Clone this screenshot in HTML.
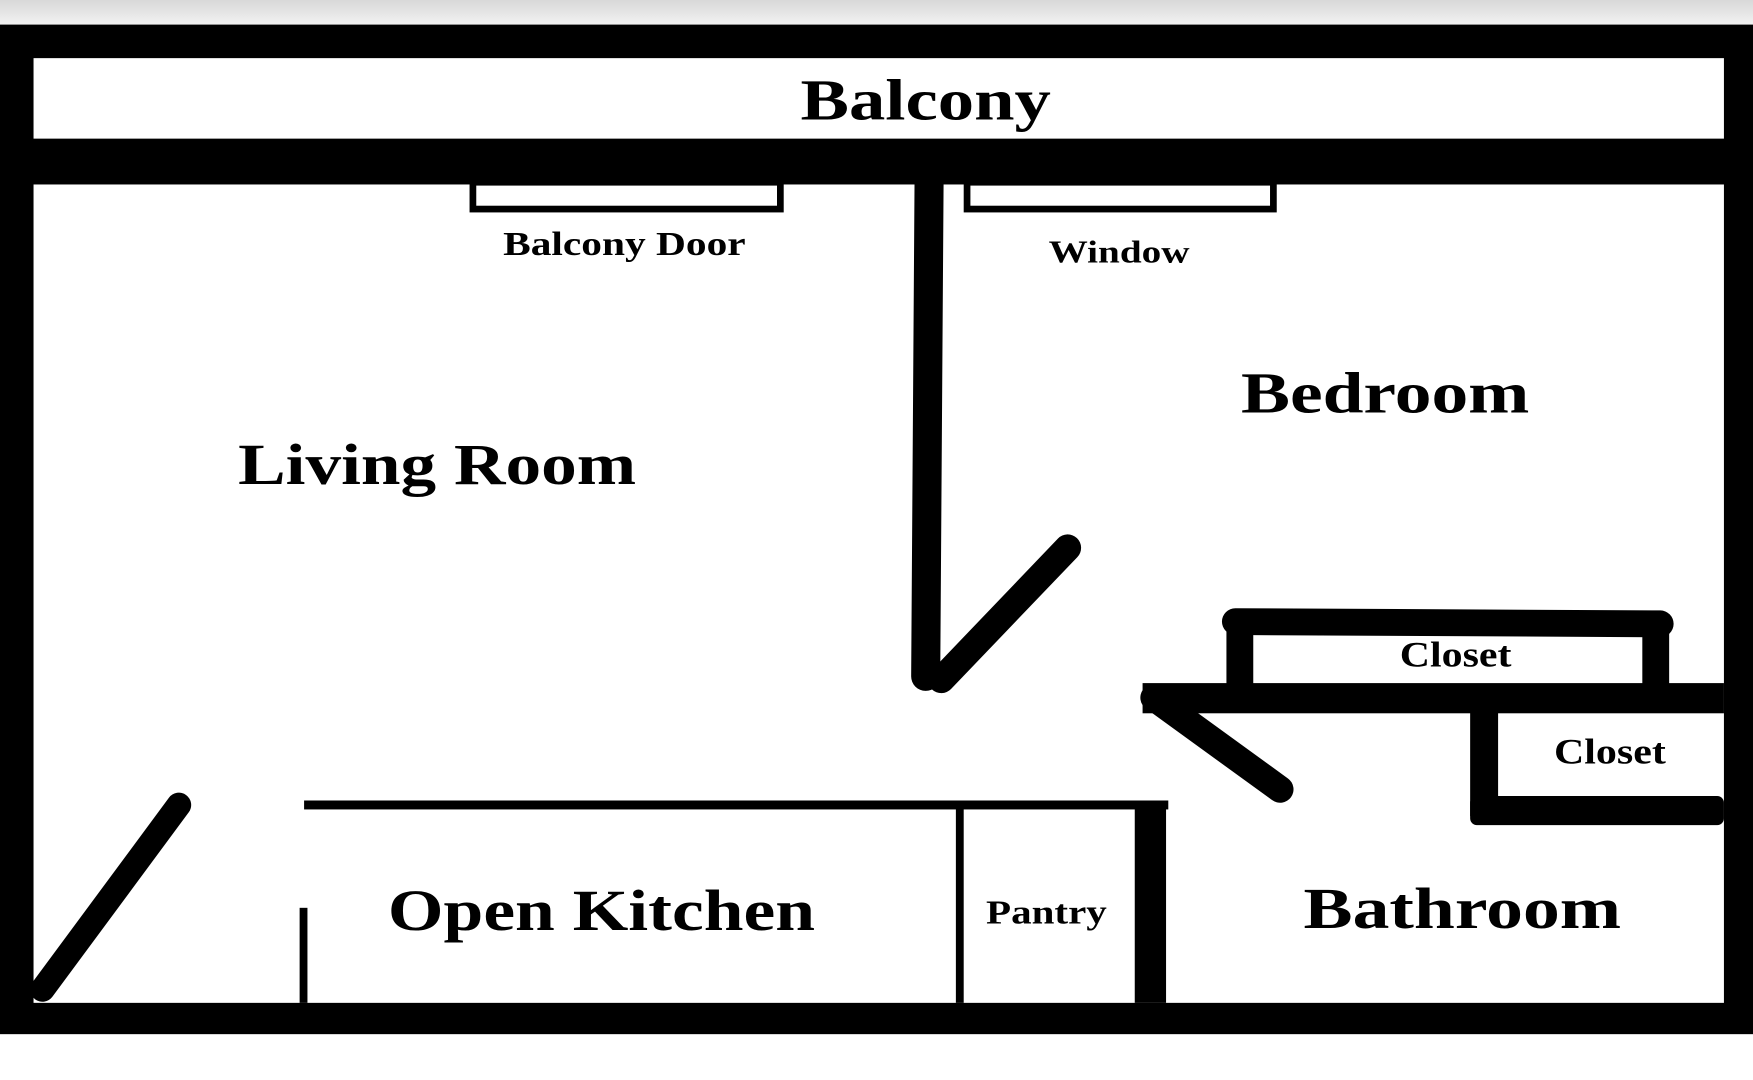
<!DOCTYPE html>
<html><head><style>html,body{margin:0;padding:0;background:#fff;overflow:hidden}svg{display:block}</style></head>
<body>
<svg width="1753" height="1080" viewBox="0 0 1568 966" preserveAspectRatio="none" xmlns="http://www.w3.org/2000/svg">
<defs><linearGradient id="g" x1="0" y1="0" x2="0" y2="1"><stop offset="0" stop-color="#d8d8d8"/><stop offset="1" stop-color="#f2f2f2"/></linearGradient></defs>
<rect x="0" y="0" width="1568" height="966" fill="#fff"/>
<rect x="0" y="0" width="1568" height="22" fill="url(#g)"/>
<rect x="0" y="22" width="1568" height="903" fill="#000"/>
<rect x="30" y="52" width="1512" height="72" fill="#fff"/>
<rect x="30" y="165" width="1512" height="732" fill="#fff"/>
<g fill="none" stroke="#000">
<rect x="423" y="163" width="275" height="24" stroke-width="6"/>
<rect x="865" y="163" width="274" height="24" stroke-width="6"/>
</g>
<g stroke="#000" stroke-linecap="round" fill="none">
<line x1="831" y1="165" x2="828" y2="605" stroke-width="26"/>
<line x1="842" y1="608" x2="955" y2="490" stroke-width="24"/>
<line x1="1105" y1="556" x2="1485" y2="558" stroke-width="24"/>
<line x1="1032" y1="624" x2="1145" y2="706" stroke-width="24"/>
<line x1="160" y1="720" x2="38" y2="885" stroke-width="22"/>
</g>
<rect x="1097" y="556" width="24" height="62" fill="#000"/>
<rect x="1469" y="558" width="24" height="60" fill="#000"/>
<rect x="1022" y="611" width="520" height="27" fill="#000"/>
<rect x="1315" y="636" width="25" height="94" fill="#000"/>
<rect x="1315" y="712" width="227" height="26" rx="6" fill="#000"/>
<rect x="272" y="716" width="773" height="8" fill="#000"/>
<rect x="1015" y="716" width="28" height="181" fill="#000"/>
<rect x="855" y="722" width="7" height="175" fill="#000"/>
<rect x="268" y="812" width="7" height="85" fill="#000"/>
<g font-family="'Liberation Serif',serif" font-weight="bold" fill="#000" lengthAdjust="spacingAndGlyphs">
<text x="716" y="107" font-size="52" textLength="224" lengthAdjust="spacingAndGlyphs">Balcony</text>
<text x="450" y="228" font-size="30" textLength="217" lengthAdjust="spacingAndGlyphs">Balcony Door</text>
<text x="938" y="235" font-size="28" textLength="126" lengthAdjust="spacingAndGlyphs">Window</text>
<text x="1110" y="369" font-size="52" textLength="258" lengthAdjust="spacingAndGlyphs">Bedroom</text>
<text x="213" y="433" font-size="52" textLength="356" lengthAdjust="spacingAndGlyphs">Living Room</text>
<text x="1252" y="596" font-size="32" textLength="100" lengthAdjust="spacingAndGlyphs">Closet</text>
<text x="1390" y="683" font-size="32" textLength="100" lengthAdjust="spacingAndGlyphs">Closet</text>
<text x="347" y="832" font-size="52" textLength="382" lengthAdjust="spacingAndGlyphs">Open Kitchen</text>
<text x="882" y="826" font-size="30" textLength="108" lengthAdjust="spacingAndGlyphs">Pantry</text>
<text x="1166" y="830" font-size="52" textLength="284" lengthAdjust="spacingAndGlyphs">Bathroom</text>
</g>
</svg>
</body></html>
